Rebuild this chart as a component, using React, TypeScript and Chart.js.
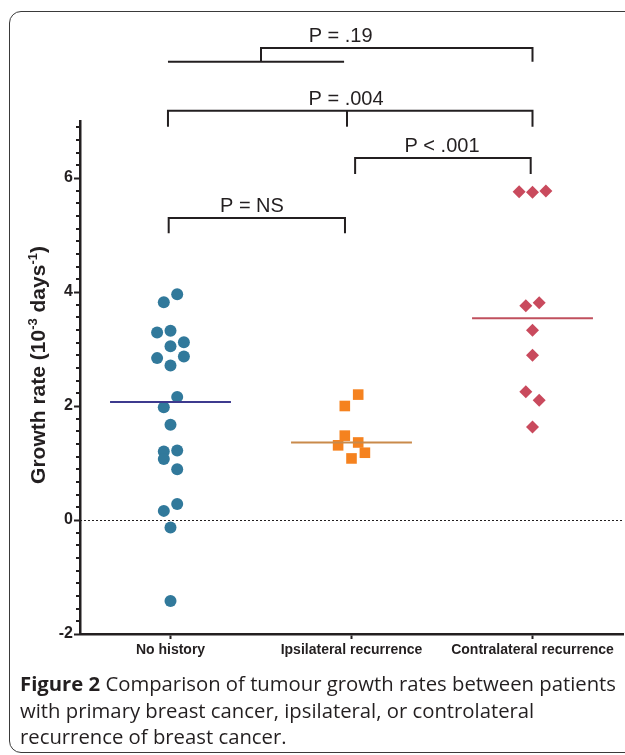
import React, { useEffect, useRef } from "react";
import { Chart, registerables } from "chart.js";

Chart.register(...registerables);

// ---------- data ----------
const categories = ["No history", "Ipsilateral recurrence", "Contralateral recurrence"];

const noHistory = [3.96, 3.82, 3.29, 3.32, 3.05, 3.12, 2.84, 2.87, 2.71, 2.16, 1.98, 1.67, 1.2, 1.22, 1.07, 0.89, 0.28, 0.16, -0.13, -1.42];
const noHistoryJitter = [1, -1, -2, 0, 0, 2, -2, 2, 0, 1, -1, 0, -1, 1, -1, 1, 1, -1, 0, 0];

const ipsilateral = [2.2, 2.0, 1.48, 1.36, 1.31, 1.18, 1.08];
const ipsilateralJitter = [1, -1, -1, 1, -2, 2, 0];

const contralateral = [5.76, 5.75, 5.77, 3.76, 3.81, 3.33, 2.89, 2.25, 2.1, 1.63];
const contralateralJitter = [-2, 0, 2, -1, 1, 0, 0, -1, 1, 0];

const groupMeans = [2.07, 1.36, 3.54];

const yTickValues = [-2, 0, 2, 4, 6];

// significance annotations
const pLabels = ["P = NS", "P < .001", "P = .004", "P = .19"];
const bracketFrom = [0.49, 1.52, 0.486, 1.0];
const bracketTo = [1.464, 2.49, 2.5, 2.5];
const bracketLevel = [5.3, 6.35, 7.18, 8.28];
const bracketDrop = [0.27, 0.28, 0.28, 0.24];
const bracketLabelX = [0.95, 2.0, 1.47, 1.44];

// ---------- style ----------
const INK = "#231f20";
const SANS = '"Liberation Sans", Arial, Helvetica, sans-serif';
const JITTER_STEP = 0.037;
const MEAN_HALF = 0.334;
const groupColors = ["#31799b", "#f5821f", "#c94a5d"];
const meanColors = ["#3d3a8e", "#c98a4b", "#c0505e"];

function pts(values: number[], jitter: number[], idx: number) {
  return values.map((v, i) => ({ x: idx + 0.5 + jitter[i] * JITTER_STEP, y: v }));
}

const annotPlugin = {
  id: "annot",
  afterDraw(chart: any) {
    const ctx = chart.ctx as CanvasRenderingContext2D;
    const xs = chart.scales.x;
    const ys = chart.scales.y;
    const area = chart.chartArea;
    ctx.save();

    // zero dotted line
    const y0 = ys.getPixelForValue(0);
    ctx.strokeStyle = INK;
    ctx.lineWidth = 1;
    ctx.setLineDash([2, 2]);
    ctx.beginPath();
    ctx.moveTo(area.left, y0 + 0.5);
    ctx.lineTo(area.right, y0 + 0.5);
    ctx.stroke();
    ctx.setLineDash([]);

    // minor ticks every 2/9
    ctx.lineWidth = 2;
    for (let k = 0; k <= 40; k++) {
      const v = -2 + (k * 2) / 9;
      if (k % 9 === 0) continue;
      const py = Math.round(ys.getPixelForValue(v));
      ctx.beginPath();
      ctx.moveTo(area.left - 4, py);
      ctx.lineTo(area.left, py);
      ctx.stroke();
    }

    // brackets
    ctx.lineWidth = 2;
    ctx.strokeStyle = INK;
    ctx.fillStyle = INK;
    ctx.font = `20px ${SANS}`;
    ctx.textAlign = "center";
    ctx.textBaseline = "alphabetic";
    for (let i = 0; i < pLabels.length; i++) {
      const x1 = xs.getPixelForValue(bracketFrom[i]);
      const x2 = xs.getPixelForValue(bracketTo[i]);
      const ly = ys.getPixelForValue(bracketLevel[i]);
      const dy = ys.getPixelForValue(bracketLevel[i] - bracketDrop[i]);
      ctx.beginPath();
      ctx.moveTo(x1, dy);
      ctx.lineTo(x1, ly);
      ctx.lineTo(x2, ly);
      ctx.lineTo(x2, dy);
      ctx.stroke();
      ctx.fillText(pLabels[i], xs.getPixelForValue(bracketLabelX[i]), ly - 6);
    }
    // middle tick of P = .004
    {
      const mx = xs.getPixelForValue(1.475);
      ctx.beginPath();
      ctx.moveTo(mx, ys.getPixelForValue(bracketLevel[2]));
      ctx.lineTo(mx, ys.getPixelForValue(bracketLevel[2] - bracketDrop[2]));
      ctx.stroke();
    }
    // lower bar for P = .19
    {
      const lv = bracketLevel[3] - bracketDrop[3];
      const py = ys.getPixelForValue(lv);
      ctx.beginPath();
      ctx.moveTo(xs.getPixelForValue(0.486), py);
      ctx.lineTo(xs.getPixelForValue(1.459), py);
      ctx.stroke();
    }

    // y-axis title with superscripts
    const big = `bold 21px ${SANS}`;
    const small = `bold 13px ${SANS}`;
    const parts: [string, boolean][] = [
      ["Growth rate (10", false],
      ["-3", true],
      [" days", false],
      ["-1", true],
      [")", false],
    ];
    let total = 0;
    for (const [t, sup] of parts) {
      ctx.font = sup ? small : big;
      total += ctx.measureText(t).width;
    }
    const cy = ys.getPixelForValue(2.72);
    ctx.translate(45, cy);
    ctx.rotate(-Math.PI / 2);
    ctx.textAlign = "left";
    let cx = -total / 2;
    for (const [t, sup] of parts) {
      ctx.font = sup ? small : big;
      ctx.fillText(t, cx, sup ? -8 : 0);
      cx += ctx.measureText(t).width;
    }
    ctx.restore();
  },
};

export default function App() {
  const ref = useRef<HTMLCanvasElement | null>(null);

  useEffect(() => {
    if (!ref.current) return;
    const chart = new Chart(ref.current, {
      type: "scatter",
      data: {
        datasets: [
          {
            label: categories[0],
            data: pts(noHistory, noHistoryJitter, 0),
            pointStyle: "circle",
            pointRadius: 6,
            backgroundColor: groupColors[0],
            borderWidth: 0,
            order: 2,
          },
          {
            label: categories[1],
            data: pts(ipsilateral, ipsilateralJitter, 1),
            pointStyle: "rect",
            pointRadius: 7.5,
            backgroundColor: groupColors[1],
            borderWidth: 0,
            order: 2,
          },
          {
            label: categories[2],
            data: pts(contralateral, contralateralJitter, 2),
            pointStyle: "rectRot",
            pointRadius: 6.5,
            backgroundColor: groupColors[2],
            borderWidth: 0,
            order: 2,
          },
          ...groupMeans.map((m, i) => ({
            label: "mean " + categories[i],
            data: [
              { x: i + 0.5 - MEAN_HALF, y: m },
              { x: i + 0.5 + MEAN_HALF, y: m },
            ],
            showLine: true,
            pointRadius: 0,
            borderColor: meanColors[i],
            borderWidth: 2,
            order: 1,
          })),
        ],
      },
      options: {
        animation: false,
        responsive: false,
        maintainAspectRatio: false,
        layout: { autoPadding: false, padding: { top: 121, right: 2, left: 0, bottom: 0 } },
        plugins: { legend: { display: false }, tooltip: { enabled: false } },
        scales: {
          x: {
            type: "linear",
            min: 0,
            max: 3,
            afterBuildTicks: (s: any) => {
              s.ticks = categories.map((_, i) => ({ value: i + 0.5 }));
            },
            afterFit: (s: any) => {
              s.height = 36;
              s.paddingLeft = 0;
              s.paddingRight = 0;
            },
            ticks: {
              callback: (_v: any, i: number) => categories[i],
              font: { family: SANS, size: 14, weight: "bold" },
              color: INK,
              padding: 3,
              maxRotation: 0,
              autoSkip: false,
            },
            grid: { drawOnChartArea: false, drawTicks: true, tickLength: 5, tickWidth: 2, tickColor: INK },
            border: { display: true, width: 2.5, color: INK },
          },
          y: {
            type: "linear",
            min: -2,
            max: 7,
            afterBuildTicks: (s: any) => {
              s.ticks = yTickValues.map((v) => ({ value: v }));
            },
            afterFit: (s: any) => {
              s.width = 80;
              s.paddingTop = 0;
              s.paddingBottom = 0;
            },
            ticks: {
              callback: (v: any) => String(v),
              font: { family: SANS, size: 16, weight: "bold" },
              color: INK,
              padding: 1,
            },
            grid: { drawOnChartArea: false, drawTicks: true, tickLength: 6, tickWidth: 2, tickColor: INK },
            border: { display: true, width: 2.5, color: INK },
          },
        },
      },
      plugins: [annotPlugin],
    } as any);
    return () => chart.destroy();
  }, []);

  return (
    <div style={{ position: "absolute", left: 0, top: 0, width: 625, height: 755, overflow: "hidden", background: "#fff" }}>
      <div
        style={{
          position: "absolute",
          left: 9,
          top: 11,
          width: 700,
          height: 740,
          border: "1px solid #3a3a3a",
          borderRadius: 12,
        }}
      />
      <canvas ref={ref} width={625} height={670} style={{ position: "absolute", left: 0, top: 0 }} />
      <div
        style={{
          position: "absolute",
          left: 20,
          top: 670,
          fontFamily: '"Open Sans", sans-serif',
          fontSize: 20.3,
          lineHeight: "26.5px",
          color: INK,
          whiteSpace: "nowrap",
        }}
      >
        <b>Figure 2</b> Comparison of tumour growth rates between patients
        <br />
        with primary breast cancer, ipsilateral, or controlateral
        <br />
        recurrence of breast cancer.
      </div>
    </div>
  );
}
